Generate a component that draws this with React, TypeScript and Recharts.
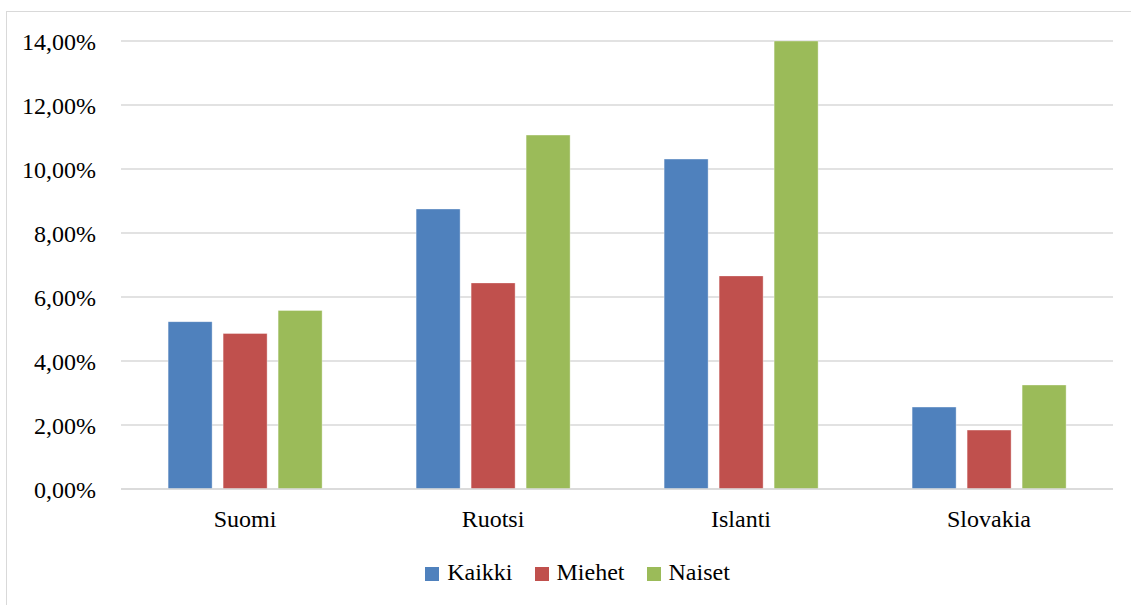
import React from 'react';
import {
    Bar,
    BarChart,
    CartesianGrid,
    Legend,
    XAxis,
    YAxis
} from 'recharts';

const countries = ['Suomi', 'Ruotsi', 'Islanti', 'Slovakia'];
const kaikki = [5.23, 8.75, 10.31, 2.56];
const miehet = [4.86, 6.44, 6.66, 1.84];
const naiset = [5.58, 11.06, 14.0, 3.25];
const yTicks = [0, 2, 4, 6, 8, 10, 12, 14];

const series = [
    { key: 'kaikki', name: 'Kaikki', color: '#4F81BD' },
    { key: 'miehet', name: 'Miehet', color: '#C0504D' },
    { key: 'naiset', name: 'Naiset', color: '#9BBB59' },
];

const data = countries.map((name, i) => ({
    name,
    kaikki: kaikki[i],
    miehet: miehet[i],
    naiset: naiset[i],
}));

const font = '"Liberation Serif", "DejaVu Serif", serif';

const percent = (v: number) => `${v.toFixed(2).replace('.', ',')}%`;

export default function App() {
    return (
        <div
            style={{
                position: 'absolute',
                left: 0,
                top: 0,
                width: 1131,
                height: 605,
                background: '#fff',
                overflow: 'hidden',
                fontFamily: font,
            }}
        >
            <div
                style={{
                    position: 'absolute',
                    left: 6,
                    top: 11,
                    width: 1140,
                    height: 620,
                    border: '1.5px solid #d9d9d9',
                }}
            />
            <div style={{ position: 'absolute', left: 0, top: 0 }}>
                <BarChart
                    width={1131}
                    height={605}
                    data={data}
                    margin={{ top: 41, right: 18, left: 0, bottom: 20 }}
                    barCategoryGap="19%"
                    barGap={11}
                    style={{ fontFamily: font }}
                >
                    <CartesianGrid vertical={false} stroke="#d9d9d9" strokeWidth={1.5} />
                    <XAxis
                        dataKey="name"
                        height={70}
                        tickLine={false}
                        axisLine={{ stroke: '#d9d9d9', strokeWidth: 1.5 }}
                        tickMargin={15}
                        tick={{ fill: '#000', fontSize: 24, fontFamily: font }}
                    />
                    <YAxis
                        width={121}
                        domain={[0, 14]}
                        ticks={yTicks}
                        tickFormatter={percent}
                        tickLine={false}
                        axisLine={false}
                        tickMargin={19}
                        tick={{ fill: '#000', fontSize: 24, fontFamily: font }}
                    />
                    <Legend
                        verticalAlign="bottom"
                        iconType="square"
                        iconSize={14}
                        wrapperStyle={{
                            fontFamily: font,
                            fontSize: 24,
                            lineHeight: '26px',
                            color: '#000',
                            paddingLeft: 64,
                            boxSizing: 'border-box',
                        }}
                        formatter={(value) => (
                            <span style={{ color: '#000', marginLeft: 4, marginRight: 12 }}>{value}</span>
                        )}
                    />
                    {series.map((s) => (
                        <Bar
                            key={s.key}
                            dataKey={s.key}
                            name={s.name}
                            fill={s.color}
                            stroke="#ffffff"
                            strokeOpacity={0.35}
                            isAnimationActive={false}
                        />
                    ))}
                </BarChart>
            </div>
        </div>
    );
}
